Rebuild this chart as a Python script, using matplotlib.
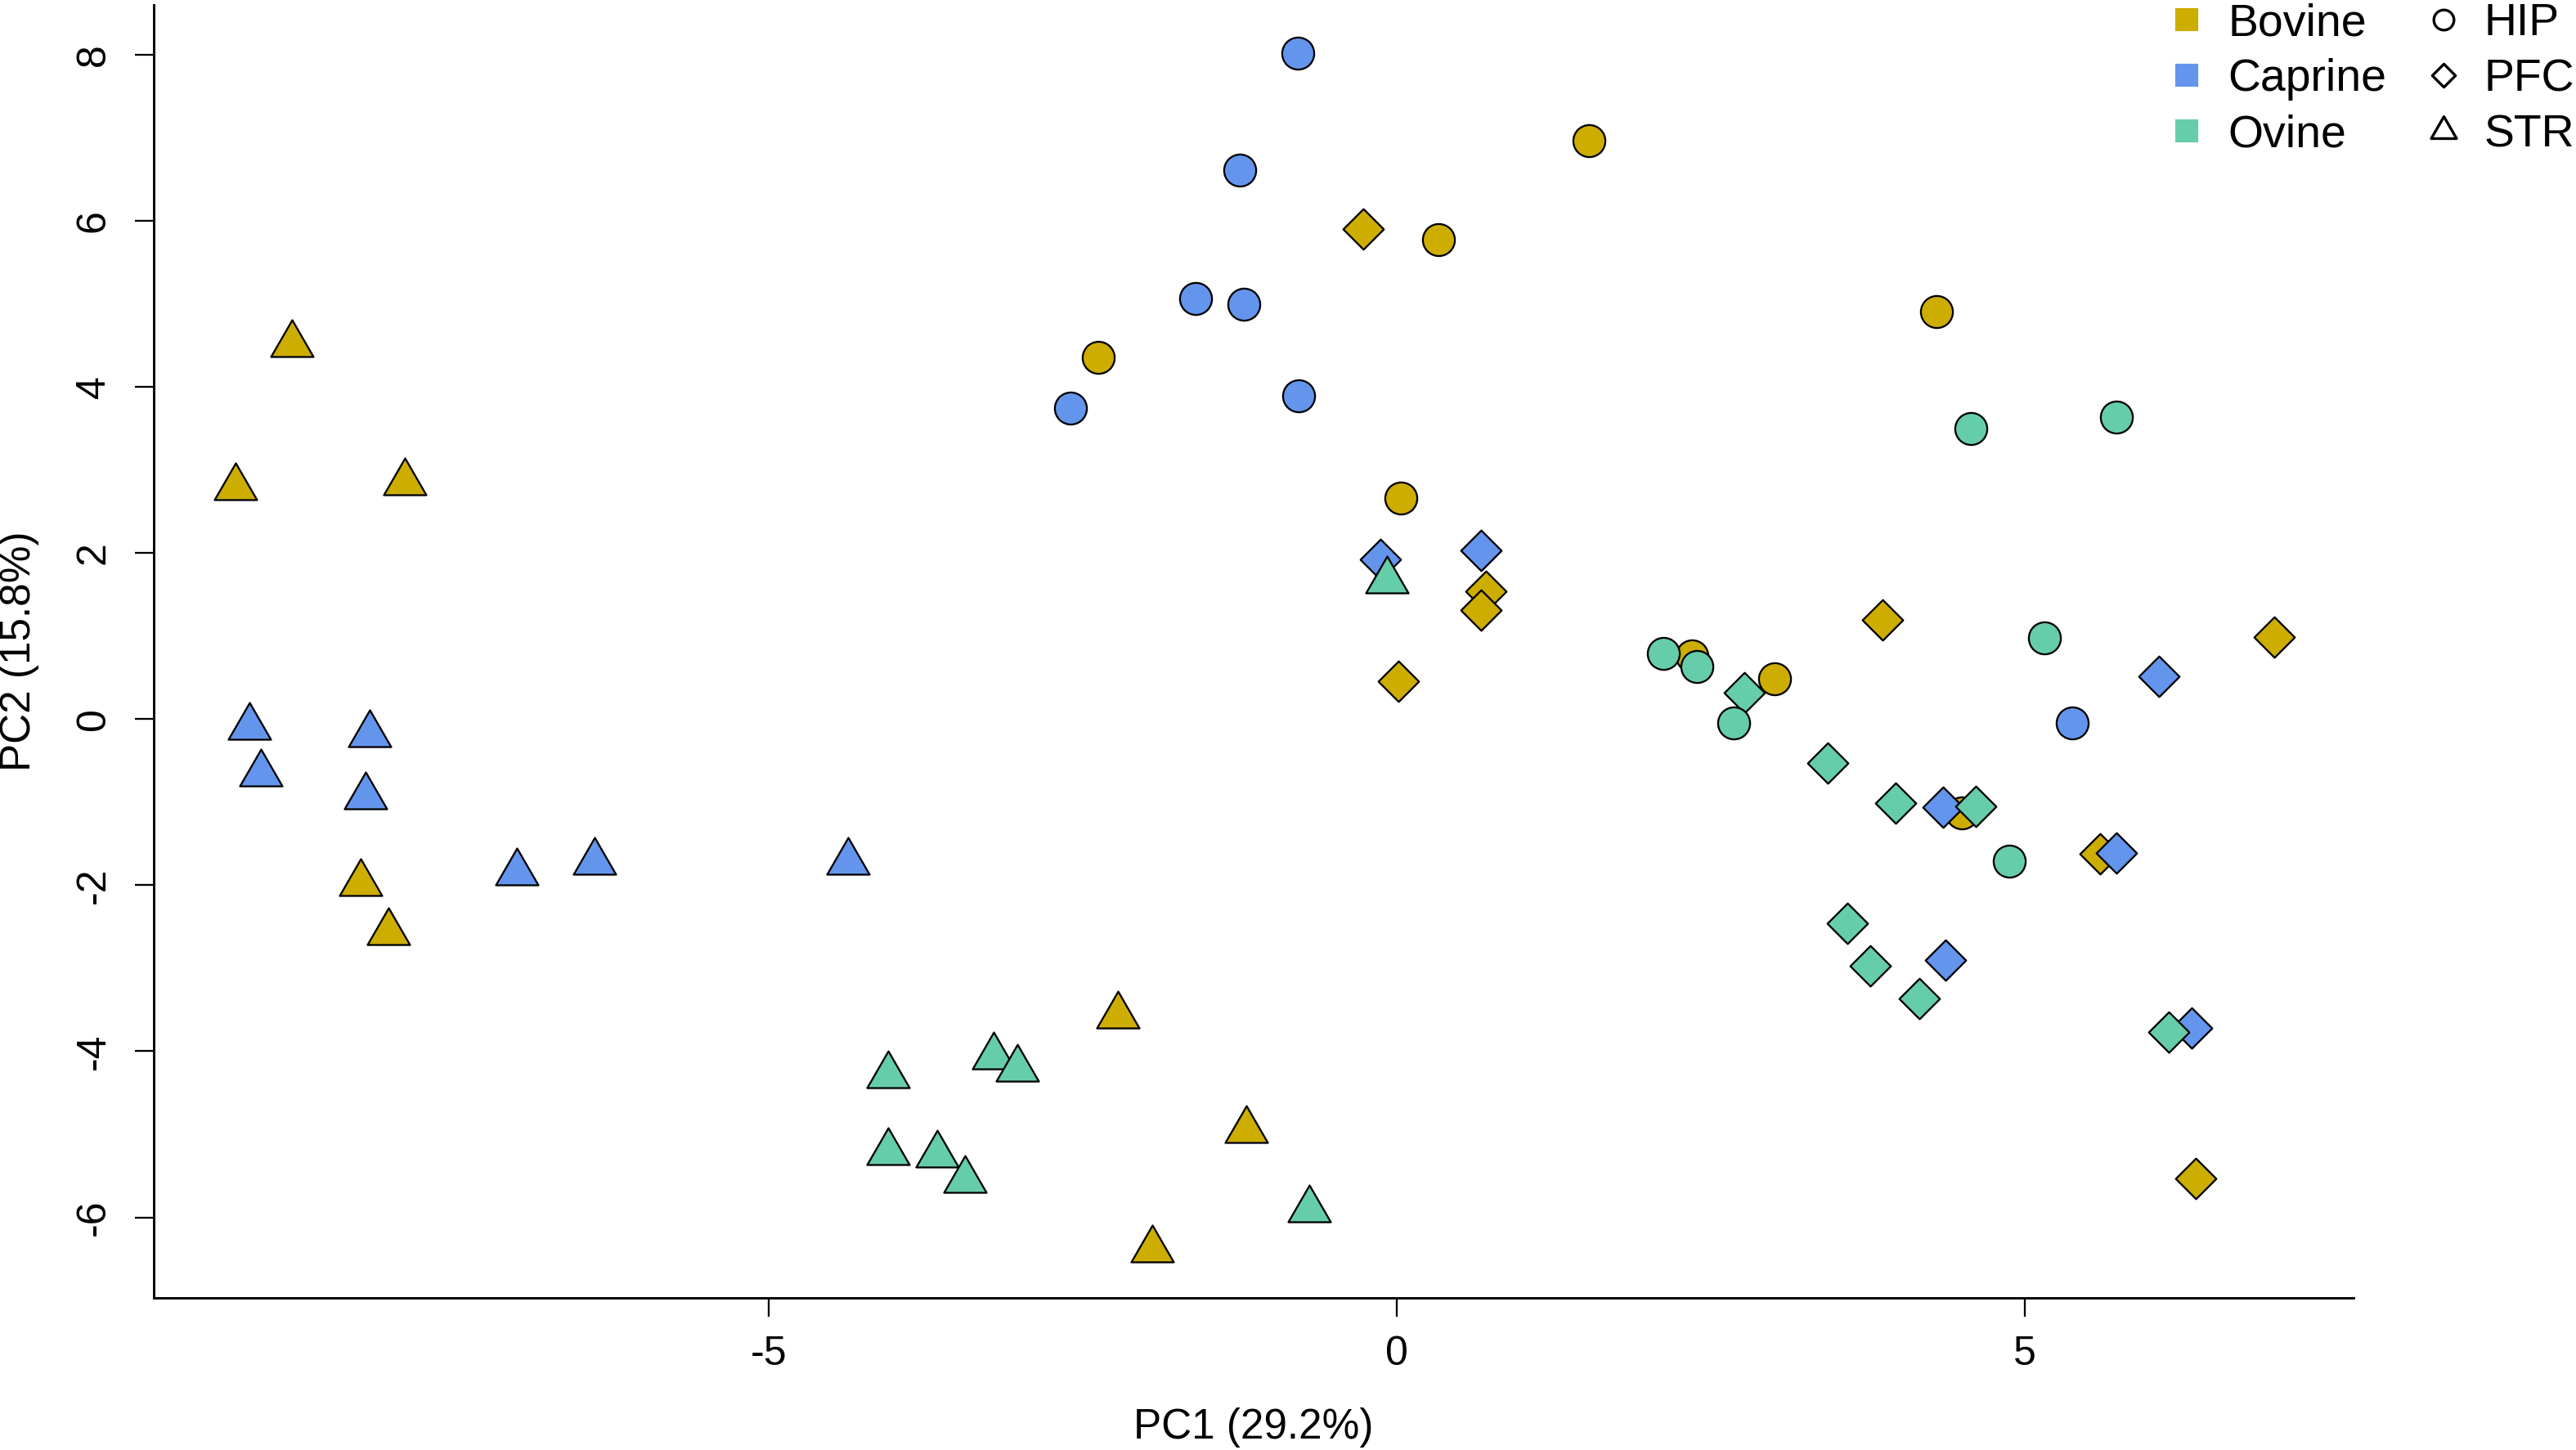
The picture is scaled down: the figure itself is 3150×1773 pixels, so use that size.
import matplotlib
matplotlib.use("Agg")
import matplotlib.pyplot as plt
from matplotlib.path import Path
from matplotlib.lines import Line2D

plt.rcParams['font.family'] = ['Liberation Sans', 'DejaVu Sans']

# ---------------- data (PC1, PC2) ----------------
species = ["Bovine", "Caprine", "Ovine"]
tissues = ["HIP", "PFC", "STR"]
species_colors = ["#CDAD00", "#6495ED", "#66CDAA"]

bov_hip_x = [1.53, 0.33, -2.38, 0.03, 2.35, 4.30, 3.01, 4.50]
bov_hip_y = [6.97, 5.77, 4.36, 2.66, 0.76, 4.91, 0.49, -1.13]
bov_pfc_x = [-0.27, 0.71, 0.67, 0.01, 3.87, 6.99, 5.60, 6.36]
bov_pfc_y = [5.90, 1.54, 1.31, 0.46, 1.19, 0.99, -1.62, -5.53]
bov_str_x = [-8.80, -9.25, -7.90, -8.25, -8.03, -2.22, -1.20, -1.95]
bov_str_y = [4.51, 2.79, 2.85, -1.98, -2.57, -3.57, -4.95, -6.39]

cap_hip_x = [-0.79, -1.25, -1.60, -1.22, -2.60, -0.78, 5.38]
cap_hip_y = [8.02, 6.61, 5.06, 5.00, 3.74, 3.89, -0.05]
cap_pfc_x = [-0.13, 0.67, 6.07, 4.35, 5.73, 4.37, 6.33]
cap_pfc_y = [1.92, 2.03, 0.51, -1.06, -1.61, -2.90, -3.72]
cap_str_x = [-9.14, -8.18, -9.05, -8.21, -7.01, -6.39, -4.37]
cap_str_y = [-0.10, -0.18, -0.66, -0.93, -1.85, -1.72, -1.72]

ovi_hip_x = [2.12, 2.39, 4.57, 5.73, 5.16, 2.68, 4.88]
ovi_hip_y = [0.79, 0.63, 3.50, 3.64, 0.98, -0.05, -1.71]
ovi_pfc_x = [2.77, 3.43, 3.97, 4.61, 3.59, 3.77, 4.16, 6.15]
ovi_pfc_y = [0.32, -0.53, -1.01, -1.05, -2.46, -2.97, -3.37, -3.77]
ovi_str_x = [-0.08, -4.05, -4.05, -3.21, -3.02, -3.66, -3.44, -0.70]
ovi_str_y = [1.67, -4.29, -5.22, -4.06, -4.21, -5.25, -5.55, -5.91]

groups = [
    ("Bovine", [("PFC", bov_pfc_x, bov_pfc_y), ("HIP", bov_hip_x, bov_hip_y), ("STR", bov_str_x, bov_str_y)]),
    ("Caprine", [("PFC", cap_pfc_x, cap_pfc_y), ("HIP", cap_hip_x, cap_hip_y), ("STR", cap_str_x, cap_str_y)]),
    ("Ovine", [("PFC", ovi_pfc_x, ovi_pfc_y), ("HIP", ovi_hip_x, ovi_hip_y), ("STR", ovi_str_x, ovi_str_y)]),
]

x_ticks = [-5, 0, 5]
y_ticks = [-6, -4, -2, 0, 2, 4, 6, 8]
x_label = "PC1 (29.2%)"
y_label = "PC2 (15.8%)"

# ---------------- marker shapes (R pch 21/23/24) ----------------
tri_path = Path([(0, 1), (0.866, -0.5), (-0.866, -0.5), (0, 1)], closed=True)
dia_path = Path([(0, 1), (1, 0), (0, -1), (-1, 0), (0, 1)], closed=True)
marker_of = {"HIP": "o", "PFC": dia_path, "STR": tri_path}
size_of = {"HIP": 9.4, "PFC": 11.9, "STR": 14.4}
legend_size_of = {"HIP": 5.9, "PFC": 6.8, "STR": 8.6}
color_of = dict(zip(species, species_colors))

W, H, DPI = 3150, 1773, 300
fig = plt.figure(figsize=(W / DPI, H / DPI), dpi=DPI)
L, R, T, B = 188, 2878, 6, 1587
ax = fig.add_axes([L / W, 1 - B / H, (R - L) / W, (B - T) / H])

for sp, parts in groups:
    for tis, xs, ys in parts:
        ax.plot(xs, ys, linestyle="none", marker=marker_of[tis],
                markersize=size_of[tis], markerfacecolor=color_of[sp],
                markeredgecolor="black", markeredgewidth=0.55)

ax.set_xlim(-9.90, 7.62)
ax.set_ylim(-6.97, 8.60)
ax.spines['top'].set_visible(False)
ax.spines['right'].set_visible(False)
for s in ['left', 'bottom']:
    ax.spines[s].set_linewidth(0.7)
ax.set_xticks(x_ticks)
ax.set_yticks(y_ticks)
ax.set_xticklabels([f"{v:g}" for v in x_ticks])
ax.set_yticklabels([f"{v:g}" for v in y_ticks], rotation=90, va="center")
ax.tick_params(axis='both', direction='out', length=5.5, width=0.55, labelsize=12)
ax.tick_params(axis='x', pad=5.5)
ax.tick_params(axis='y', pad=6.5)

fig.text(1533 / W, 1 - 1746 / H, x_label, ha="center", va="center", fontsize=12.3)
fig.text(24 / W, 1 - 796 / H, y_label, ha="center", va="center", rotation=90, fontsize=12.3)

# ---------------- legend ----------------
handles = []
labels = []
for sp in species:
    handles.append(Line2D([], [], linestyle="none", marker="s", markersize=5.8,
                          markerfacecolor=color_of[sp], markeredgecolor=color_of[sp]))
    labels.append(sp)
for tis in tissues:
    handles.append(Line2D([], [], linestyle="none", marker=marker_of[tis],
                          markersize=legend_size_of[tis], markerfacecolor="none",
                          markeredgecolor="black", markeredgewidth=0.8))
    labels.append(tis)
leg = fig.legend(handles, labels, ncol=2, loc="upper right",
                 bbox_to_anchor=(3148 / W, 1 - 3 / H), bbox_transform=fig.transFigure,
                 frameon=False, fontsize=13.3, borderpad=0, borderaxespad=0,
                 handlelength=1.0, handletextpad=0.4, columnspacing=0.75,
                 labelspacing=0.29)

fig.savefig("out.png", dpi=DPI)
